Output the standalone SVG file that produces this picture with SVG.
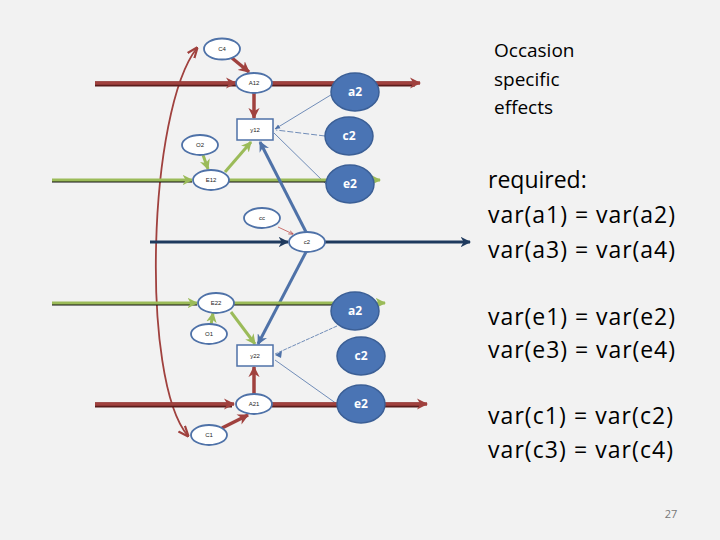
<svg xmlns="http://www.w3.org/2000/svg" width="720" height="540" viewBox="0 0 720 540">
<style>
.bg{fill:#f2f2f2}
.sm{fill:#ffffff;stroke:#4f72a8;stroke-width:1.8}
.big{fill:#4a74b4;stroke:#3b5f96;stroke-width:1.5}
.box{fill:#ffffff;stroke:#4f72a8;stroke-width:1.5}
.st{font-family:"Liberation Sans",Arial,sans-serif;font-size:6px;fill:#222;text-anchor:middle}
.bt{font-family:"Open Sans","Liberation Sans",sans-serif;font-size:12px;font-weight:bold;fill:#ffffff;text-anchor:middle}
.red{stroke:#a0413e;stroke-width:3.5;fill:none}
.redo{stroke:#5a1d1c;stroke-width:5;fill:none}
.grn{stroke:#9bbb59;stroke-width:3;fill:none}
.blk{stroke:#111;stroke-width:3;fill:none}
.blu{stroke:#1f3a5e;stroke-width:3;fill:none}
.bl2{stroke:#4f72a8;stroke-width:3;fill:none}
.thin{stroke:#4f72a8;stroke-width:0.8;fill:none}
.rt{font-family:"Open Sans","Liberation Sans",sans-serif;fill:#000}
</style>
<defs>
<marker id="ar" viewBox="0 0 10 10" refX="9" refY="5" markerWidth="3.2" markerHeight="3.2" orient="auto"><path d="M0,0 L10,5 L0,10 L3,5 z" fill="#a0413e"/></marker>
<marker id="ag" viewBox="0 0 10 10" refX="9" refY="5" markerWidth="3.5" markerHeight="3.5" orient="auto"><path d="M0,0 L10,5 L0,10 L3,5 z" fill="#9bbb59"/></marker>
<marker id="ab" viewBox="0 0 10 10" refX="9" refY="5" markerWidth="3.5" markerHeight="3.5" orient="auto"><path d="M0,0 L10,5 L0,10 L3,5 z" fill="#4f72a8"/></marker>
<marker id="an" viewBox="0 0 10 10" refX="9" refY="5" markerWidth="3.5" markerHeight="3.5" orient="auto"><path d="M0,0 L10,5 L0,10 L3,5 z" fill="#1f3a5e"/></marker>
<marker id="at" viewBox="0 0 10 10" refX="9" refY="5" markerWidth="7" markerHeight="7" orient="auto"><path d="M0,1 L10,5 L0,9 z" fill="#4f72a8"/></marker>
<marker id="ac" viewBox="0 0 10 10" refX="9" refY="5" markerWidth="6" markerHeight="6" orient="auto-start-reverse"><path d="M0,1 L10,5 L0,9" fill="none" stroke="#a0413e" stroke-width="2"/></marker>
<marker id="arr" viewBox="0 0 10 10" refX="9" refY="5" markerWidth="6" markerHeight="6" orient="auto"><path d="M0,1 L10,5 L0,9" fill="none" stroke="#b04545" stroke-width="1.5"/></marker>
</defs>
<rect class="bg" x="0" y="0" width="720" height="540"/>

<g id="connectors">
<path d="M197,48 C148,110 140,380 188,436" stroke="#a0413e" stroke-width="1.8" fill="none" marker-start="url(#ac)" marker-end="url(#ac)"/>
<line class="redo" x1="95" y1="84" x2="236" y2="84"/>
<line class="red" x1="95" y1="83" x2="236" y2="83" marker-end="url(#ar)"/>
<line class="redo" x1="272" y1="84" x2="415" y2="84"/>
<line class="red" x1="272" y1="83" x2="420" y2="83" marker-end="url(#ar)"/>
<line class="red" x1="232" y1="58" x2="249" y2="72" marker-end="url(#ar)"/>
<line class="red" x1="254" y1="93" x2="254" y2="118" marker-end="url(#ar)"/>
<line class="thin" x1="334" y1="93" x2="275" y2="129" marker-end="url(#at)"/>
<line class="thin" x1="325" y1="136" x2="276" y2="130" stroke-dasharray="6,2"/>
<line class="thin" x1="326" y1="184" x2="274" y2="133"/>
<line class="blk" x1="52" y1="181" x2="192" y2="181"/>
<line class="grn" x1="52" y1="180" x2="192" y2="180" marker-end="url(#ag)"/>
<line class="blk" x1="229" y1="181" x2="326" y2="181"/>
<line class="grn" x1="229" y1="180" x2="380" y2="180" marker-end="url(#ag)"/>
<line class="grn" x1="203" y1="155" x2="208" y2="169" marker-end="url(#ag)"/>
<line class="grn" x1="225" y1="172" x2="251" y2="142" marker-end="url(#ag)"/>
<line class="bl2" x1="306" y1="232" x2="260" y2="142" marker-end="url(#ab)"/>
<line class="bl2" x1="306" y1="252" x2="258" y2="344" marker-end="url(#ab)"/>
<line class="blu" x1="150" y1="242" x2="288" y2="242" marker-end="url(#an)"/>
<line class="blu" x1="325" y1="242" x2="470" y2="242" marker-end="url(#an)"/>
<line x1="278" y1="227" x2="293" y2="234" stroke="#c0504d" stroke-width="0.8" marker-end="url(#arr)"/>
<line class="blk" x1="52" y1="304" x2="197" y2="304"/>
<line class="grn" x1="52" y1="303" x2="197" y2="303" marker-end="url(#ag)"/>
<line class="blk" x1="234" y1="304" x2="332" y2="304"/>
<line class="grn" x1="234" y1="303" x2="385" y2="303" marker-end="url(#ag)"/>
<line class="grn" x1="211" y1="325" x2="213" y2="313" marker-end="url(#ag)"/>
<line class="grn" x1="231" y1="312" x2="255" y2="344" marker-end="url(#ag)"/>
<line class="thin" x1="337" y1="326" x2="275" y2="354" stroke-dasharray="4,1"/>
<line class="thin" x1="337" y1="404" x2="275" y2="360"/>
<path d="M282,351 L275,355 L281,358 z" fill="#4f72a8"/>
<line class="redo" x1="95" y1="405" x2="232" y2="405"/>
<line class="red" x1="95" y1="404" x2="234" y2="404" marker-end="url(#ar)"/>
<line class="redo" x1="272" y1="405" x2="420" y2="405"/>
<line class="red" x1="272" y1="404" x2="427" y2="404" marker-end="url(#ar)"/>
<line class="red" x1="254" y1="394" x2="254" y2="367" marker-end="url(#ar)"/>
<line class="red" x1="222" y1="428" x2="248" y2="415" marker-end="url(#ar)"/>
</g>

<g id="C4"><ellipse class="sm" cx="222" cy="49" rx="18" ry="10.5"/><text class="st" x="222" y="51">C4</text></g>
<g id="A12"><ellipse class="sm" cx="254" cy="83" rx="18" ry="10"/><text class="st" x="254" y="85">A12</text></g>
<g id="a2top"><ellipse class="big" cx="355" cy="92" rx="24" ry="19"/><text class="bt" x="355" y="96">a2</text></g>
<g id="y12"><rect class="box" x="237" y="119" width="36" height="21"/><text class="st" x="255" y="132">y12</text></g>
<g id="c2top"><ellipse class="big" cx="349" cy="136" rx="24" ry="19"/><text class="bt" x="349" y="140">c2</text></g>
<g id="O2"><ellipse class="sm" cx="200" cy="145" rx="18" ry="10"/><text class="st" x="200" y="147">O2</text></g>
<g id="E12"><ellipse class="sm" cx="211" cy="180" rx="18" ry="10"/><text class="st" x="211" y="182">E12</text></g>
<g id="e2top"><ellipse class="big" cx="350" cy="184" rx="24" ry="19"/><text class="bt" x="350" y="188">e2</text></g>
<g id="cc"><ellipse class="sm" cx="262" cy="218" rx="18" ry="10"/><text class="st" x="262" y="220">cc</text></g>
<g id="c2mid"><ellipse class="sm" cx="307" cy="242" rx="18" ry="10"/><text class="st" x="307" y="244">c2</text></g>
<g id="E22"><ellipse class="sm" cx="216" cy="303" rx="18" ry="10"/><text class="st" x="216" y="305">E22</text></g>
<g id="a2bot"><ellipse class="big" cx="355" cy="311" rx="24" ry="19"/><text class="bt" x="355" y="315">a2</text></g>
<g id="O1"><ellipse class="sm" cx="209" cy="334" rx="18" ry="10"/><text class="st" x="209" y="336">O1</text></g>
<g id="y22"><rect class="box" x="237" y="345" width="36" height="21"/><text class="st" x="255" y="358">y22</text></g>
<g id="c2bot"><ellipse class="big" cx="361" cy="356" rx="24" ry="19"/><text class="bt" x="361" y="360">c2</text></g>
<g id="A21"><ellipse class="sm" cx="254" cy="404" rx="18" ry="10"/><text class="st" x="254" y="406">A21</text></g>
<g id="e2bot"><ellipse class="big" cx="361" cy="404" rx="24" ry="19"/><text class="bt" x="361" y="408">e2</text></g>
<g id="C1"><ellipse class="sm" cx="209" cy="435" rx="18" ry="10"/><text class="st" x="209" y="437">C1</text></g>

<g id="text">
<text class="rt" x="494" y="57" font-size="19">Occasion</text>
<text class="rt" x="494" y="86" font-size="19">specific</text>
<text class="rt" x="494" y="114" font-size="19">effects</text>
<text class="rt" x="488" y="188" font-size="23">required:</text>
<text class="rt" x="488" y="223" font-size="23" textLength="187">var(a1) = var(a2)</text>
<text class="rt" x="488" y="258" font-size="23" textLength="187">var(a3) = var(a4)</text>
<text class="rt" x="488" y="325" font-size="23" textLength="187">var(e1) = var(e2)</text>
<text class="rt" x="488" y="358" font-size="23" textLength="187">var(e3) = var(e4)</text>
<text class="rt" x="488" y="424" font-size="23" textLength="185">var(c1) = var(c2)</text>
<text class="rt" x="488" y="458" font-size="23" textLength="185">var(c3) = var(c4)</text>
<text x="671" y="518" font-family="Open Sans,Liberation Sans,sans-serif" font-size="11" fill="#777" text-anchor="middle">27</text>
</g>
</svg>
